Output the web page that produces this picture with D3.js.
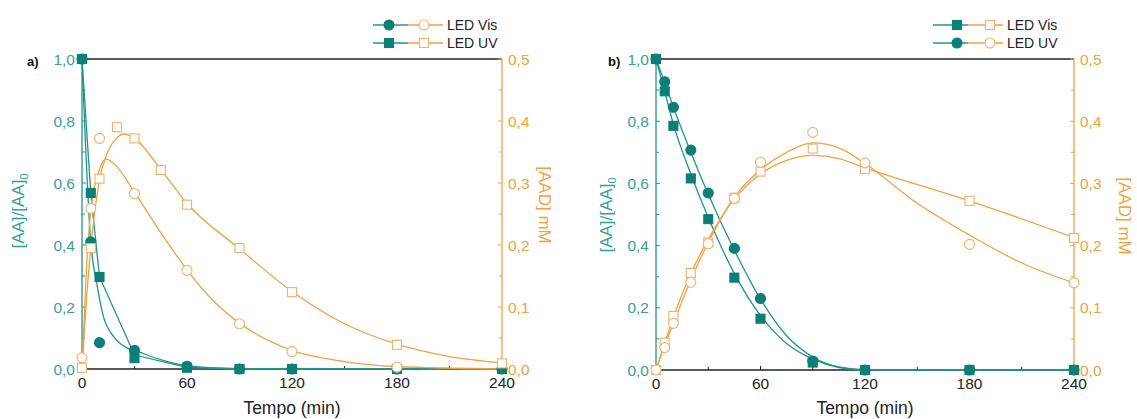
<!DOCTYPE html>
<html>
<head>
<meta charset="utf-8">
<script src="https://cdn.jsdelivr.net/npm/d3@7"></script>
<style>
  body { margin: 0; background: #fff; }
  svg { display: block; font-family: "Liberation Sans", Arial, sans-serif; }
</style>
</head>
<body>
<svg id="chart" width="1137" height="419"></svg>
<script>
// ---- axis ticks ----
const timeTicks = [0, 60, 120, 180, 240];
const timeMinorTicks = [30, 90, 150, 210];
const aaTicks = [0, 0.2, 0.4, 0.6, 0.8, 1.0];
const aaMinorTicks = [0.1, 0.3, 0.5, 0.7, 0.9];
const aaTickLabels = ["0,0", "0,2", "0,4", "0,6", "0,8", "1,0"];
const aadTicks = [0, 0.1, 0.2, 0.3, 0.4, 0.5];
const aadMinorTicks = [0.05, 0.15, 0.25, 0.35, 0.45];
const aadTickLabels = ["0,0", "0,1", "0,2", "0,3", "0,4", "0,5"];

// ---- panel a: measured points [time (min), value] ----
const aVisAA  = [[0,1.0],[5,0.41],[10,0.085],[30,0.06],[60,0.009],[90,0],[120,0],[180,0],[240,0]];
const aUvAA   = [[0,1.0],[5,0.568],[10,0.297],[30,0.035],[60,0.004],[90,0],[120,0],[180,0],[240,0]];
const aVisAAD = [[0,0.018],[5,0.259],[10,0.372],[30,0.283],[60,0.159],[90,0.073],[120,0.028],[180,0.003]];
const aUvAAD  = [[0,0.002],[5,0.195],[10,0.307],[20,0.390],[30,0.372],[45,0.321],[60,0.265],[90,0.195],[120,0.124],[180,0.039],[240,0.009]];

// ---- panel a: fitted curves ----
const aVisAAFit  = [[0,1.0],[5,0.41],[8.4,0.277],[12.2,0.17],[18,0.105],[25.6,0.068],[30,0.06],[45,0.03],[60,0.01],[90,0.001],[240,0]];
const aUvAAFit   = [[0,1.0],[5,0.568],[10,0.297],[30,0.045],[60,0.005],[90,0],[240,0]];
const aVisAADFit = [[0,0],[2.5,0.16],[5,0.255],[10,0.322],[13.5,0.339],[20,0.326],[30,0.285],[45,0.22],[60,0.16],[75,0.11],[90,0.074],[120,0.03],[150,0.012],[180,0.004],[240,0]];
const aUvAADFit  = [[0,0],[2.5,0.11],[5,0.195],[10,0.305],[15,0.352],[20,0.373],[24,0.379],[30,0.372],[45,0.322],[60,0.267],[90,0.194],[120,0.125],[150,0.073],[180,0.04],[210,0.02],[240,0.01]];

// ---- panel b: measured points ----
const bVisAA  = [[0,1.0],[5,0.896],[10,0.785],[20,0.616],[30,0.485],[45,0.297],[60,0.165],[90,0.024],[120,0],[180,0],[240,0]];
const bUvAA   = [[0,1.0],[5,0.927],[10,0.845],[20,0.707],[30,0.569],[45,0.391],[60,0.23],[90,0.029],[120,0],[180,0],[240,0]];
const bVisAAD = [[0,0],[5,0.044],[10,0.087],[20,0.156],[30,0.205],[45,0.277],[60,0.319],[90,0.356],[120,0.323],[180,0.272],[240,0.212]];
const bUvAAD  = [[0,0],[5,0.036],[10,0.075],[20,0.141],[30,0.203],[45,0.276],[60,0.334],[90,0.382],[120,0.333],[180,0.202],[240,0.14]];

// ---- panel b: fitted curves ----
const bVisAAFit  = [[0,1.0],[5,0.895],[10,0.79],[20,0.63],[30,0.49],[45,0.31],[60,0.175],[75,0.085],[90,0.035],[105,0.008],[120,0],[240,0]];
const bUvAAFit   = [[0,1.0],[5,0.925],[10,0.845],[20,0.70],[30,0.565],[45,0.385],[60,0.228],[75,0.11],[90,0.042],[105,0.01],[120,0.001],[130,0],[240,0]];
const bVisAADFit = [[0,0],[5,0.043],[10,0.085],[20,0.155],[30,0.21],[45,0.275],[60,0.315],[75,0.337],[90,0.345],[105,0.34],[120,0.325],[180,0.272],[240,0.213]];
const bUvAADFit  = [[0,0],[5,0.04],[10,0.075],[20,0.145],[30,0.205],[45,0.278],[60,0.322],[75,0.35],[90,0.365],[105,0.357],[120,0.332],[150,0.268],[180,0.217],[210,0.172],[240,0.14]];

// ---- colours ----
const TEAL = "#0c7f77", TEAL_LINE = "#23948a", TEAL_TEXT = "#3a9e98";
const ORANGE = "#f2a040", ORANGE_MARK = "#f3b066";

const svg = d3.select("#chart");

function drawPanel(p) {
  const x = d3.scaleLinear().domain([0, 240]).range([p.left, p.right]);
  const yL = d3.scaleLinear().domain([0, 1]).range([p.bottom, p.top]);
  const yR = d3.scaleLinear().domain([0, 0.5]).range([p.bottom, p.top]);
  const g = svg.append("g");

  // frame: top and bottom black lines
  g.append("line").attr("x1", x(0)).attr("x2", x(240)).attr("y1", yL(1)).attr("y2", yL(1))
    .attr("stroke", "#222").attr("stroke-width", 1.3);
  g.append("line").attr("x1", x(0)).attr("x2", x(240)).attr("y1", yL(0)).attr("y2", yL(0))
    .attr("stroke", "#222").attr("stroke-width", 1.3);

  // bottom axis ticks (inward) and labels
  const xTickLen = (v, len) => g.append("line").attr("x1", x(v)).attr("x2", x(v))
      .attr("y1", yL(0)).attr("y2", yL(0) - len).attr("stroke", "#222").attr("stroke-width", 1);
  timeTicks.forEach(v => xTickLen(v, 4));
  timeMinorTicks.forEach(v => xTickLen(v, 3));
  g.selectAll(".xl").data(timeTicks).join("text")
    .attr("x", d => x(d)).attr("y", p.bottom + 19)
    .attr("text-anchor", "middle").attr("font-size", 15.5).attr("fill", "#222")
    .text(d => d);
  g.append("text").attr("x", (x(0) + x(240)) / 2).attr("y", 414)
    .attr("text-anchor", "middle").attr("font-size", 17.5).attr("fill", "#222")
    .text("Tempo (min)");

  // left axis (teal)
  g.append("line").attr("x1", x(0)).attr("x2", x(0)).attr("y1", yL(0)).attr("y2", yL(1))
    .attr("stroke", TEAL_LINE).attr("stroke-width", 1.3);
  aaTicks.forEach(v => g.append("line").attr("x1", x(0)).attr("x2", x(0) + 4)
    .attr("y1", yL(v)).attr("y2", yL(v)).attr("stroke", TEAL_LINE));
  aaMinorTicks.forEach(v => g.append("line").attr("x1", x(0)).attr("x2", x(0) + 3)
    .attr("y1", yL(v)).attr("y2", yL(v)).attr("stroke", TEAL_LINE));
  g.selectAll(".yl").data(aaTicks).join("text")
    .attr("x", x(0) - 7).attr("y", d => yL(d)).attr("dy", "0.36em")
    .attr("text-anchor", "end").attr("font-size", 15.5).attr("fill", TEAL_TEXT)
    .text((d, i) => aaTickLabels[i]);
  const lt = g.append("text")
    .attr("transform", `translate(${p.leftTitleX},${p.leftTitleY}) rotate(-90)`)
    .attr("text-anchor", "middle").attr("font-size", 17).attr("fill", TEAL_TEXT);
  lt.append("tspan").text("[AA]/[AA]");
  lt.append("tspan").attr("font-size", 11).attr("dy", 4).text("0");

  // right axis (orange)
  g.append("line").attr("x1", x(240)).attr("x2", x(240)).attr("y1", yR(0)).attr("y2", yR(0.5))
    .attr("stroke", ORANGE).attr("stroke-width", 1.3);
  aadTicks.forEach(v => g.append("line").attr("x1", x(240)).attr("x2", x(240) - 4)
    .attr("y1", yR(v)).attr("y2", yR(v)).attr("stroke", ORANGE));
  aadMinorTicks.forEach(v => g.append("line").attr("x1", x(240)).attr("x2", x(240) - 3)
    .attr("y1", yR(v)).attr("y2", yR(v)).attr("stroke", ORANGE));
  g.selectAll(".yr").data(aadTicks).join("text")
    .attr("x", x(240) + 6).attr("y", d => yR(d)).attr("dy", "0.36em")
    .attr("text-anchor", "start").attr("font-size", 15.5).attr("fill", ORANGE)
    .text((d, i) => aadTickLabels[i]);
  g.append("text")
    .attr("transform", `translate(${p.rightTitleX},${p.rightTitleY}) rotate(90)`)
    .attr("text-anchor", "middle").attr("font-size", 17).attr("fill", ORANGE)
    .text("[AAD] mM");

  // panel letter
  g.append("text").attr("x", p.letterX).attr("y", 66)
    .attr("font-size", 13).attr("font-weight", "bold").attr("fill", "#111").text(p.letter);

  // fitted curves
  const lineL = (curve) => d3.line().x(d => x(d[0])).y(d => yL(d[1])).curve(curve);
  const lineR = d3.line().x(d => x(d[0])).y(d => yR(d[1])).curve(d3.curveMonotoneX);
  p.aaFits.forEach(f => g.append("path").attr("d", lineL(f.curve)(f.data))
    .attr("fill", "none").attr("stroke", TEAL_LINE).attr("stroke-width", 1.3));
  p.aadFits.forEach(f => g.append("path").attr("d", lineR(f))
    .attr("fill", "none").attr("stroke", ORANGE).attr("stroke-width", 1.3));

  // markers
  const circle = (sel, cx, cy, fill, stroke) => sel.append("circle")
    .attr("cx", cx).attr("cy", cy).attr("r", 5).attr("fill", fill).attr("stroke", stroke).attr("stroke-width", 1.1);
  const square = (sel, cx, cy, fill, stroke) => sel.append("rect")
    .attr("x", cx - 4.5).attr("y", cy - 4.5).attr("width", 9).attr("height", 9)
    .attr("fill", fill).attr("stroke", stroke).attr("stroke-width", 1.1);
  const shape = s => s === "circle" ? circle : square;

  p.aaSeries.forEach(s => s.data.forEach(d => shape(s.shape)(g, x(d[0]), yL(d[1]), TEAL, TEAL)));
  p.aadSeries.forEach(s => s.data.forEach(d => shape(s.shape)(g, x(d[0]), yR(d[1]), "#fff", ORANGE_MARK)));

  // legend
  p.legend.forEach((row, i) => {
    const ly = 25 + i * 18;
    const lx = p.legendX;
    g.append("line").attr("x1", lx).attr("x2", lx + 35).attr("y1", ly).attr("y2", ly)
      .attr("stroke", TEAL_LINE).attr("stroke-width", 1.3);
    g.append("line").attr("x1", lx + 35).attr("x2", lx + 70).attr("y1", ly).attr("y2", ly)
      .attr("stroke", ORANGE).attr("stroke-width", 1.3);
    shape(row.shape)(g, lx + p.legendFilled, ly, TEAL, TEAL);
    shape(row.shape)(g, lx + p.legendOpen, ly, "#fff", ORANGE_MARK);
    g.append("text").attr("x", lx + 74).attr("y", ly).attr("dy", "0.36em")
      .attr("font-size", 14).attr("fill", "#222").text(row.label);
  });
}

drawPanel({
  left: 82, right: 502, top: 59, bottom: 369,
  letter: "a)", letterX: 27,
  leftTitleX: 24, leftTitleY: 211, rightTitleX: 539, rightTitleY: 205,
  legendX: 373, legendFilled: 16, legendOpen: 51,
  legend: [{ label: "LED Vis", shape: "circle" }, { label: "LED UV", shape: "square" }],
  aaFits: [{ data: aVisAAFit, curve: d3.curveMonotoneX }, { data: aUvAAFit, curve: d3.curveLinear }],
  aadFits: [aVisAADFit, aUvAADFit],
  aaSeries: [{ data: aVisAA, shape: "circle" }, { data: aUvAA, shape: "square" }],
  aadSeries: [{ data: aVisAAD, shape: "circle" }, { data: aUvAAD, shape: "square" }]
});

drawPanel({
  left: 656, right: 1074, top: 59, bottom: 370,
  letter: "b)", letterX: 608,
  leftTitleX: 612, leftTitleY: 215, rightTitleX: 1119, rightTitleY: 216,
  legendX: 933, legendFilled: 24, legendOpen: 57,
  legend: [{ label: "LED Vis", shape: "square" }, { label: "LED UV", shape: "circle" }],
  aaFits: [{ data: bVisAAFit, curve: d3.curveMonotoneX }, { data: bUvAAFit, curve: d3.curveMonotoneX }],
  aadFits: [bVisAADFit, bUvAADFit],
  aaSeries: [{ data: bVisAA, shape: "square" }, { data: bUvAA, shape: "circle" }],
  aadSeries: [{ data: bVisAAD, shape: "square" }, { data: bUvAAD, shape: "circle" }]
});
</script>
</body>
</html>
